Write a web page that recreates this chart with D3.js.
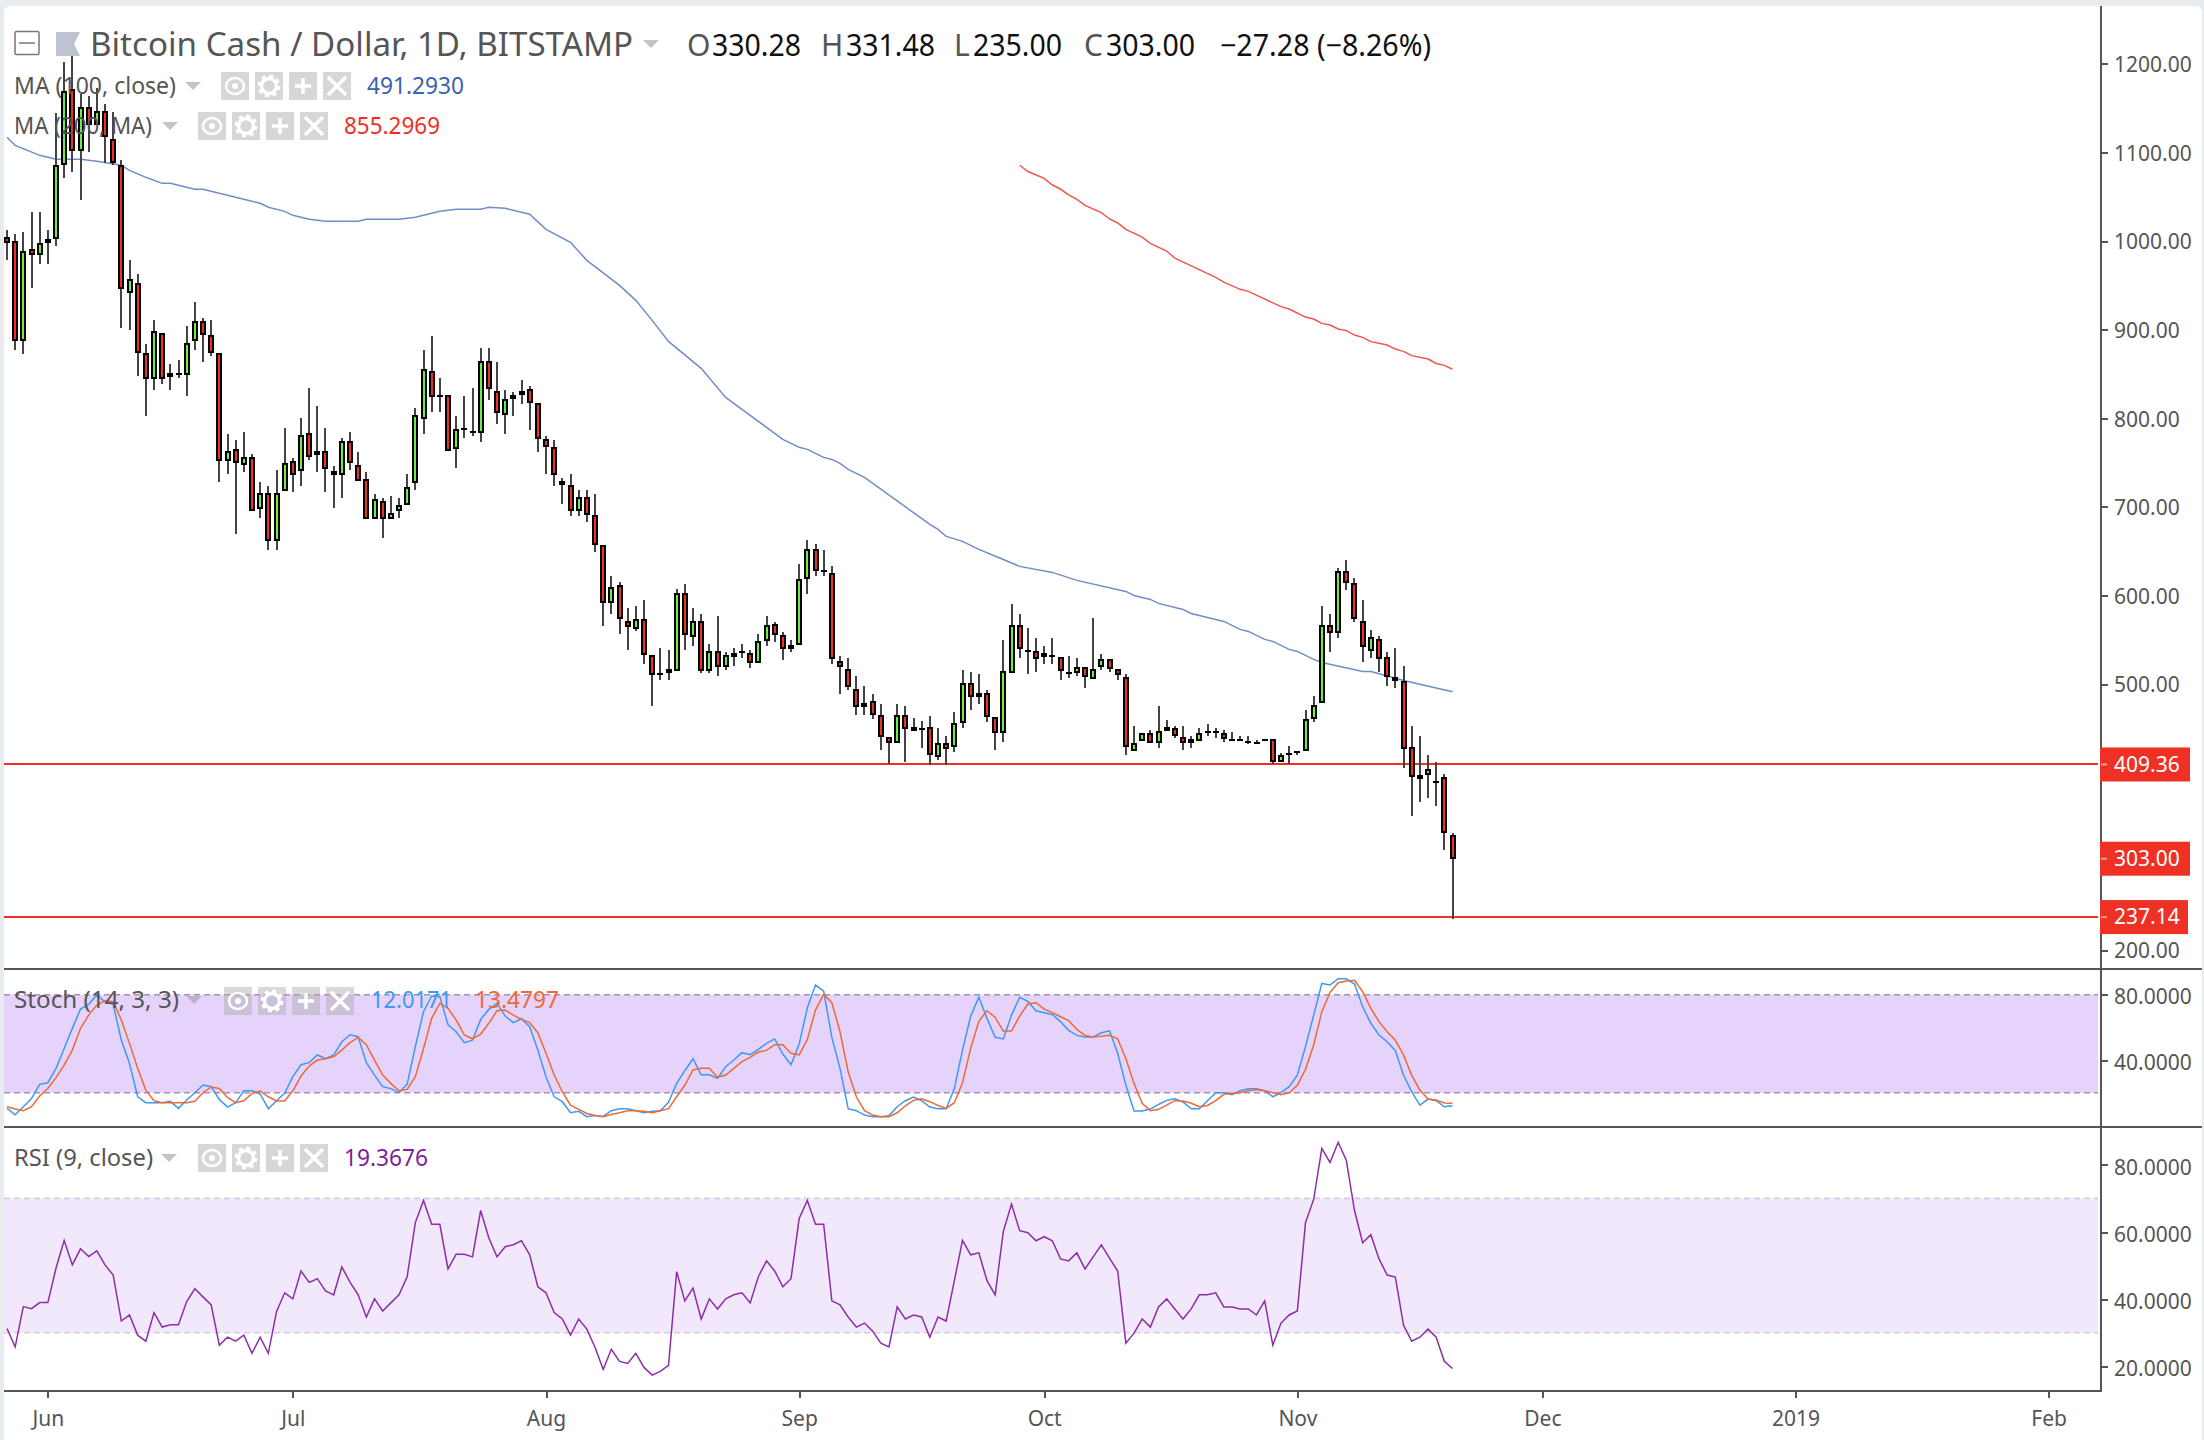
<!DOCTYPE html>
<html><head><meta charset="utf-8">
<script src="https://cdn.jsdelivr.net/npm/d3@7/dist/d3.min.js"></script>
<style>html,body{margin:0;padding:0;background:#e9ecef}svg{display:block}</style>
</head><body><svg id="c" width="2204" height="1440"></svg>
<script>
const firstDay = "2018-05-27";
const opens = [1004.2,999.7,886.8,990.6,983.9,997.4,1001.9,1085.5,1171.3,1101.3,
1150.9,1130.6,1146.4,1114.8,1085.5,941.0,952.3,873.3,843.9,895.8,
846.2,850.7,848.4,886.8,909.4,893.6,873.3,751.4,764.9,746.9,
755.9,697.2,715.2,661.1,717.5,751.4,740.1,783.0,758.1,762.7,
740.1,735.6,774.0,746.9,731.0,685.9,706.2,685.9,694.9,701.7,
726.5,798.8,853.0,825.9,825.9,764.9,787.5,785.2,783.0,864.2,
830.4,803.3,821.3,825.9,832.6,816.8,776.2,767.2,728.8,724.3,
694.9,710.7,690.4,656.6,591.1,611.4,570.8,561.8,573.0,532.4,
512.1,512.1,514.3,602.4,552.7,570.8,514.3,536.9,518.9,530.1,
536.9,534.6,523.4,548.2,567.4,555.0,539.2,543.7,618.2,652.0,
628.3,625.0,525.6,516.6,494.0,473.7,480.5,464.7,439.9,433.1,
464.7,446.6,450.0,451.1,417.3,433.1,428.6,455.6,500.8,485.0,
489.5,462.4,444.4,512.1,566.3,538.0,536.9,530.1,532.4,530.1,
513.2,512.1,518.9,505.3,518.9,527.9,516.6,507.6,424.0,435.3,
444.4,433.1,446.6,450.0,439.9,433.1,435.3,446.6,446.6,444.4,
437.6,437.6,435.3,434.2,437.6,437.6,412.7,421.8,424.0,424.0,
460.2,478.2,566.3,557.2,627.2,613.7,570.8,536.9,550.4,530.1,
507.6,503.0,428.6,392.4,397.0,390.2,394.7,330.28];
const highs = [1012.1,1007.6,1009.8,1032.4,1032.4,1012.1,1144.2,1201.7,1208.5,1165.6,
1163.3,1172.4,1154.3,1145.3,1091.1,978.2,962.4,883.4,910.5,895.8,
860.9,865.4,903.8,930.8,912.8,910.5,873.3,781.8,775.1,784.1,
759.3,727.7,723.1,741.2,788.6,754.7,799.9,833.8,813.5,788.6,
745.7,777.3,784.1,761.5,739.0,714.1,709.6,711.9,709.6,736.7,
811.2,876.7,892.5,845.0,825.9,802.2,824.7,833.8,878.9,878.9,
863.1,831.5,829.3,842.8,836.0,816.8,779.6,775.1,732.2,736.7,
718.6,718.6,714.1,656.6,621.6,614.8,585.4,587.7,594.5,532.4,
540.3,538.0,606.9,612.5,585.4,578.7,544.8,576.4,535.8,540.3,
544.8,538.0,556.1,576.4,569.7,558.4,549.3,635.1,662.2,657.7,
650.9,632.9,531.3,529.0,508.7,497.4,488.4,477.1,439.9,477.1,
474.8,461.3,457.9,463.6,450.0,441.0,468.1,515.5,513.2,510.9,
492.9,462.4,549.3,590.0,578.7,562.9,551.6,542.6,551.6,530.1,
531.3,529.0,518.9,574.2,533.5,527.9,516.6,510.9,452.3,444.4,
447.8,474.8,459.0,452.3,452.3,441.0,450.0,454.5,450.0,447.8,
445.5,441.0,441.0,436.5,437.6,437.6,421.8,429.7,424.0,470.3,
486.1,587.7,578.7,630.6,639.6,619.3,594.5,560.6,553.8,535.8,
540.3,520.0,452.3,441.0,420.6,411.6,398.1,331.48];
const lows = [978.2,876.7,872.1,946.6,973.7,973.7,994.0,1070.8,1077.6,1045.9,
1100.1,1130.6,1087.7,1085.5,901.5,899.2,847.3,802.2,831.5,838.3,
831.5,845.0,824.7,876.7,863.1,869.9,727.7,736.7,669.0,739.0,
694.9,687.0,650.9,650.9,717.5,716.4,723.1,752.5,739.0,716.4,
698.3,709.6,741.2,728.8,685.9,685.9,664.5,685.9,687.0,701.7,
718.6,781.8,806.7,806.7,762.7,743.5,777.3,779.6,772.8,820.2,
793.1,781.8,802.2,815.7,786.4,761.5,736.7,723.1,702.8,689.3,
689.3,682.5,648.7,565.1,578.7,556.1,538.0,559.5,522.2,474.8,
504.2,504.2,514.3,538.0,542.6,512.1,512.1,508.7,515.5,520.0,
529.0,517.7,523.4,542.6,547.1,526.8,535.8,543.7,601.2,621.6,
621.6,522.2,488.4,492.9,464.7,464.7,460.2,425.2,409.4,433.1,
411.6,446.6,427.4,408.3,413.9,408.3,422.9,450.0,470.3,477.1,
456.8,425.2,434.2,512.1,529.0,510.9,513.2,522.2,522.2,504.2,
506.5,508.7,495.2,505.3,515.5,513.2,504.2,420.6,424.0,435.3,
433.1,427.4,446.6,438.7,425.2,427.4,435.3,441.0,438.7,434.2,
436.5,435.3,431.9,431.9,435.3,409.4,411.6,409.4,420.6,424.0,
456.8,478.2,535.8,551.6,605.8,569.6,524.5,529.0,513.2,497.4,
495.2,404.9,350.7,366.5,371.0,362.0,312.3,235.00];
const closes = [997.4,886.8,988.4,983.9,997.4,1001.9,1085.5,1169.0,1101.3,1150.9,
1130.6,1146.4,1117.0,1087.7,945.5,956.8,873.3,843.9,898.1,843.9,
850.7,848.4,884.6,909.4,893.6,873.3,751.4,762.7,749.1,755.9,
694.9,715.2,661.1,715.2,749.1,735.6,780.7,755.9,762.7,742.3,
735.6,774.0,749.1,728.8,685.9,708.5,685.9,692.7,701.7,722.0,
803.3,855.2,823.6,824.7,762.7,787.5,788.6,783.0,864.2,832.6,
805.5,821.3,825.9,830.4,816.8,776.2,767.2,735.6,724.3,694.9,
710.7,690.4,656.6,591.1,609.1,573.0,564.0,573.0,532.4,509.8,
509.8,516.6,602.4,555.0,570.8,514.3,536.9,518.9,532.4,534.6,
534.6,523.4,548.2,566.3,555.0,539.2,543.7,618.2,652.0,627.2,
627.2,527.9,518.9,496.3,473.7,478.2,464.7,439.9,433.1,464.7,
448.9,451.1,448.9,419.5,433.1,426.3,455.6,500.8,485.0,489.5,
462.4,444.4,514.3,566.3,539.2,536.9,527.9,534.6,530.1,514.3,
512.1,518.9,507.6,516.6,527.9,516.6,509.8,428.6,433.1,444.4,
433.1,446.6,451.1,441.0,433.1,437.6,444.4,444.4,444.4,437.6,
437.0,435.3,434.8,433.7,435.3,412.7,419.5,419.5,423.5,460.2,
476.0,566.3,557.2,627.2,613.7,573.0,541.4,552.7,527.9,507.6,
503.0,426.3,394.7,397.0,403.7,388.0,331.5,303.00];

const ma100Day = [0,1,4,6,9,11,14,15,17,19,20,23,24,28,31,32,34,35,37,39,43,44,48,50,53,55,58,59,61,64,66,69,71,75,77,79,81,85,88,90,91,95,97,98,100,101,102,103,105,113,114,115,117,119,122,124,128,131,137,138,140,141,144,145,149,151,152,154,155,157,158,160,161,166,167,171,177];
const ma100 = [1117.1,1108.0,1096.7,1092.2,1092.2,1090.0,1085.5,1079.8,1071.9,1065.1,1065.1,1058.4,1058.4,1049.3,1042.6,1038.1,1033.5,1029.0,1024.5,1022.3,1022.3,1024.5,1024.5,1026.8,1033.5,1035.8,1035.8,1038.1,1036.9,1030.2,1013.2,998.6,978.2,950.0,933.1,910.5,886.8,856.3,823.6,810.0,803.3,776.2,767.2,764.9,755.9,753.6,749.1,742.3,733.3,680.3,674.6,666.7,661.1,652.0,640.7,632.9,626.1,617.1,604.6,600.1,595.6,591.1,584.3,579.8,570.8,561.8,559.5,550.5,548.2,539.2,536.9,527.9,524.5,514.3,514.3,504.2,491.3];
const ma200Day = [124,125,127,128,129,130,131,132,134,135,136,137,139,140,142,143,148,149,151,152,156,157,159,160,161,162,163,164,165,166,167,169,170,171,172,174,175,176,177];
const ma200 = [1085.5,1078.4,1070.8,1063.2,1058.7,1052.0,1047.0,1040.3,1032.0,1024.9,1020.4,1013.2,1004.5,997.4,988.7,980.8,959.0,953.7,945.5,943.2,926.0,923.3,914.2,912.0,907.1,905.2,900.7,898.9,893.9,891.3,886.5,882.6,878.1,875.5,870.7,866.8,861.9,859.7,855.3];

const stochK = [10.4,6.5,11.4,16.5,25.1,26.1,34.9,47.1,59.4,71.2,
74.1,79.8,75.7,74.1,52.2,37.9,17.5,13.9,13.9,13.9,
14.7,10.4,15.5,20.0,24.7,23.7,15.9,11.2,13.9,21.2,
21.2,19.2,10.2,15.1,19.6,29.8,37.1,38.4,43.1,40.8,
43.1,51.2,55.5,54.3,38.4,30.8,23.7,22.5,20.0,25.3,
48.2,69.6,79.2,78.8,61.6,57.3,50.6,52.2,64.9,71.0,
74.7,66.9,62.9,65.3,60.4,46.1,29.8,17.5,14.5,7.7,
8.6,5.3,6.1,5.5,9.0,10.2,10.2,9.0,7.7,8.6,
9.0,14.1,25.7,33.5,40.8,31.0,31.0,28.8,35.9,40.0,
44.5,43.3,46.5,50.2,52.9,43.7,37.1,49.8,72.0,85.9,
82.2,53.9,34.9,10.2,9.0,6.3,5.3,5.3,5.9,11.4,
15.1,17.3,15.1,11.2,10.2,10.2,22.6,46.1,66.9,78.4,
65.5,53.9,52.9,67.5,78.4,75.9,70.2,69.0,67.9,63.5,
58.2,55.1,54.1,54.1,56.7,57.9,44.1,24.7,8.8,8.8,
10.0,12.8,15.3,16.3,14.3,10.2,10.2,15.1,20.0,20.0,
18.8,21.2,22.4,22.4,21.2,17.5,20.0,23.7,30.8,48.2,
67.5,86.9,85.9,89.8,89.8,86.5,72.6,62.5,55.3,51.2,
45.7,30.8,20.6,12.4,16.1,15.1,11.4,12.02];
const stochD = [11.4,10.0,9.0,11.4,18.0,22.6,29.2,36.9,46.1,59.4,
67.5,73.7,76.3,75.7,64.5,50.2,34.9,21.6,15.1,13.9,
13.9,13.9,13.9,14.7,20.0,23.5,22.6,17.1,13.9,15.1,
19.6,21.0,17.5,14.9,14.9,21.2,30.2,36.3,40.0,40.8,
42.0,46.1,50.6,53.9,49.4,40.0,30.8,25.7,21.2,22.0,
29.8,47.1,65.5,74.7,71.6,64.5,55.3,53.0,55.9,62.5,
70.2,70.6,67.5,64.9,62.9,56.7,44.1,30.8,20.6,12.4,
9.8,7.3,6.1,5.3,6.7,7.7,9.0,9.0,8.6,7.7,
9.0,10.2,17.5,24.7,33.9,34.9,34.9,29.4,30.8,34.9,
39.0,41.6,44.9,45.9,49.4,49.4,44.1,43.1,52.6,70.6,
80.2,75.1,57.3,32.8,17.5,9.0,6.3,5.3,5.3,7.7,
12.0,15.3,16.3,14.5,12.2,10.4,13.9,26.1,47.1,63.7,
70.2,66.1,57.7,57.7,66.9,74.3,75.1,71.2,69.0,66.5,
64.1,58.8,55.1,54.1,54.5,55.1,53.0,41.0,25.7,13.5,
9.0,9.8,12.4,15.1,14.9,13.5,11.4,12.2,15.1,19.0,
19.6,20.0,21.2,22.0,21.2,20.0,18.8,20.0,24.5,34.3,
49.2,69.6,81.4,87.3,88.4,88.8,81.8,71.6,63.5,57.3,
52.2,43.1,30.8,21.6,16.1,15.5,13.7,13.48];
const rsi = [31.3,25.8,37.8,37.2,39.0,39.0,49.2,57.5,50.2,55.0,
52.7,54.4,50.2,47.2,33.5,35.3,29.3,27.5,36.0,31.7,
32.4,32.4,39.3,43.1,40.7,38.3,26.3,28.7,27.5,29.3,
23.9,28.7,23.9,36.3,41.9,40.1,48.4,45.0,46.1,42.5,
41.3,49.6,45.1,41.3,34.7,40.1,36.5,38.9,41.3,46.7,
62.8,69.4,62.3,62.3,49.0,53.4,53.4,52.6,66.4,58.2,
52.6,55.6,56.2,57.4,53.2,43.7,41.9,36.0,34.1,29.3,
34.1,31.1,25.7,19.1,25.1,21.5,20.9,23.9,19.7,17.4,
18.5,20.3,48.2,39.5,43.3,34.1,40.1,37.1,40.1,41.3,
41.9,38.9,46.7,51.4,48.4,43.7,46.1,64.0,69.4,62.3,
62.3,39.5,38.3,34.7,31.7,32.9,30.5,26.9,25.8,37.7,
34.1,35.3,34.7,28.7,34.7,33.5,45.5,57.5,53.2,53.8,
45.5,41.3,60.2,68.3,60.4,59.8,57.4,58.6,57.4,52.0,
51.4,53.8,49.0,52.6,56.2,52.2,48.4,26.9,29.9,34.1,
31.7,37.7,40.1,37.1,34.1,37.1,41.3,41.3,41.9,37.7,
37.7,37.1,37.1,35.3,39.5,26.3,32.9,35.3,36.5,62.8,
69.7,84.9,80.7,86.7,81.3,66.4,56.8,59.2,52.0,47.2,
46.6,32.3,27.5,28.7,31.1,28.7,21.5,19.37];

const priceTicks = [200,500,600,700,800,900,1000,1100,1200];
const stochTicks = [40,80];
const rsiTicks = [20,40,60,80];
const stochBand = [20,80];
const rsiBand = [30,70];
const priceTags = [409.36,303.00,237.14];
const levels = [409.36,237.14];
const monthTicks = ["2018-06-01","2018-07-01","2018-08-01","2018-09-01","2018-10-01","2018-11-01","2018-12-01","2019-01-01","2019-02-01"];
const monthLabels = ["Jun","Jul","Aug","Sep","Oct","Nov","Dec","2019","Feb"];

const FONT = '"Noto Sans", sans-serif';
const svg = d3.select("#c");
const day0 = new Date(firstDay + "T00:00:00Z");
const dates = opens.map((_, i) => d3.utcDay.offset(day0, i));
const x = d3.scaleUtc().domain([dates[0], dates[dates.length - 1]]).range([7, 1452.5]);
const xi = i => x(dates[i]);
const yP = d3.scaleLinear().domain([200, 1200]).range([950, 63.8]);
const yS = d3.scaleLinear().domain([20, 80]).range([1092.7, 994.7]);
const yR = d3.scaleLinear().domain([20, 80]).range([1366.4, 1164.8]);
const RIGHT = 2101, PLOTR = 2098, LEFT = 4;

svg.append("rect").attr("x", LEFT).attr("y", 6).attr("width", 2198).attr("height", 1440).attr("rx", 6).attr("fill", "#fff");

/* bands */
function band(scale, vals, fill, dash) {
  svg.append("rect").attr("x", LEFT).attr("width", PLOTR - LEFT)
    .attr("y", scale(vals[1])).attr("height", scale(vals[0]) - scale(vals[1])).attr("fill", fill);
  svg.selectAll(null).data(vals).enter().append("line")
    .attr("x1", LEFT).attr("x2", PLOTR).attr("y1", d => scale(d)).attr("y2", d => scale(d))
    .attr("stroke", dash).attr("stroke-width", 1.6).attr("stroke-dasharray", "6 4");
}
band(yS, stochBand, "#e5d3fb", "#a294b2");
band(yR, rsiBand, "#f1e8fb", "#d6cce2");

/* levels */
svg.selectAll(null).data(levels).enter().append("line")
  .attr("x1", LEFT).attr("x2", PLOTR).attr("y1", d => Math.round(yP(d))).attr("y2", d => Math.round(yP(d)))
  .attr("stroke", "#ee3124").attr("stroke-width", 2).attr("shape-rendering", "crispEdges");

/* MA lines */
const lineV = (days, vals, y, col, w) => svg.append("path")
  .attr("d", d3.line().x((d, i) => xi(days[i])).y(d => y(d))(vals))
  .attr("fill", "none").attr("stroke", col).attr("stroke-width", w);
lineV(ma100Day, ma100, yP, "#6f8dc8", 1.5);
lineV(ma200Day, ma200, yP, "#f2554d", 1.5);

/* candles */
const g = svg.append("g").attr("shape-rendering", "crispEdges");
const idx = d3.range(opens.length);
const cx = i => Math.round(xi(i));
g.selectAll(".w").data(idx).enter().append("rect").attr("class", "w")
  .attr("x", i => cx(i) - 1).attr("width", 2)
  .attr("y", i => yP(highs[i])).attr("height", i => yP(lows[i]) - yP(highs[i]))
  .attr("fill", "#444");
const bodyTop = i => Math.round(yP(Math.max(opens[i], closes[i])));
const bodyBot = i => Math.max(Math.round(yP(Math.min(opens[i], closes[i]))), bodyTop(i) + 2);
g.selectAll(".b").data(idx).enter().append("rect").attr("class", "b")
  .attr("x", i => cx(i) - 3).attr("width", 6)
  .attr("y", bodyTop).attr("height", i => bodyBot(i) - bodyTop(i)).attr("fill", "#000");
g.selectAll(".f").data(idx.filter(i => bodyBot(i) - bodyTop(i) > 4)).enter().append("rect").attr("class", "f")
  .attr("x", i => cx(i) - 1).attr("width", 2)
  .attr("y", i => bodyTop(i) + 2).attr("height", i => bodyBot(i) - bodyTop(i) - 4)
  .attr("fill", i => closes[i] >= opens[i] ? "#6cf03c" : "#ee3124");

/* oscillator lines */
const lineD = (vals, y, col) => svg.append("path")
  .attr("d", d3.line().x((d, i) => xi(i)).y(d => y(d))(vals))
  .attr("fill", "none").attr("stroke", col).attr("stroke-width", 1.5);
lineD(stochK, yS, "#3f98f2");
lineD(stochD, yS, "#ee6a35");
lineD(rsi, yR, "#8e2ea6");

/* pane frames */
const frameCol = "#555";
[[LEFT, 969, 2202, 969], [LEFT, 1127, 2202, 1127], [LEFT, 1391, RIGHT + 1, 1391], [RIGHT, 6, RIGHT, 1391]].forEach(l =>
  svg.append("line").attr("x1", l[0]).attr("y1", l[1]).attr("x2", l[2]).attr("y2", l[3])
    .attr("stroke", frameCol).attr("stroke-width", 2).attr("shape-rendering", "crispEdges"));

/* axes */
function styleAxis(sel, shift) {
  sel.select(".domain").remove();
  sel.selectAll("line").attr("stroke", frameCol).attr("stroke-width", 2).attr("shape-rendering", "crispEdges");
  sel.selectAll("text").attr("font-family", FONT).attr("font-size", 21).attr("fill", "#555")
    .attr("transform", `translate(0,${shift})`);
}
const rightAxis = (scale, ticks, fmt, shift) => svg.append("g").attr("transform", `translate(${RIGHT},0)`)
  .call(d3.axisRight(scale).tickValues(ticks).tickFormat(d3.format(fmt)).tickSize(7).tickPadding(6)).call(styleAxis, shift);
rightAxis(yP, priceTicks, ".2f", 1);
rightAxis(yS, stochTicks, ".4f", 2.5);
rightAxis(yR, rsiTicks, ".4f", 2.5);
const monthDates = monthTicks.map(s => new Date(s + "T00:00:00Z"));
svg.append("g").attr("transform", "translate(0,1391)")
  .call(d3.axisBottom(x).tickValues(monthDates).tickFormat((d, i) => monthLabels[i]).tickSize(7).tickPadding(13))
  .call(styleAxis, 0);

/* price tags */
const tags = svg.selectAll(null).data(priceTags).enter().append("g").attr("transform", d => `translate(2100,${yP(d)})`);
tags.append("rect").attr("x", 0).attr("y", -17).attr("width", (d, i) => i === 2 ? 88 : 90).attr("height", 34).attr("fill", "#ee3124");
tags.append("line").attr("x1", 1).attr("x2", 7).attr("y1", 0).attr("y2", 0).attr("stroke", "#f7a08e").attr("stroke-width", 2);
tags.append("text").attr("x", 14).attr("dy", ".35em").attr("font-family", FONT).attr("font-size", 21).attr("fill", "#fff").text(d => d3.format(".2f")(d));

/* legend */
function txt(px, py, s, size, col, len) {
  const t = svg.append("text").attr("x", px).attr("y", py).attr("font-family", FONT)
    .attr("font-size", size).attr("fill", col).text(s);
  if (len) t.attr("textLength", len).attr("lengthAdjust", "spacingAndGlyphs");
  return t;
}
function tri(px, py, w, h, col) {
  svg.append("path").attr("d", `M${px},${py}h${w}l${-w / 2},${h}z`).attr("fill", col);
}
function buttons(px, py, fill) {
  [0, 1, 2, 3].forEach(i => {
    const bx = px + i * 34, cxb = bx + 14, cyb = py + 14;
    svg.append("rect").attr("x", bx).attr("y", py).attr("width", 28).attr("height", 28).attr("fill", fill);
    if (i === 0) {
      svg.append("ellipse").attr("cx", cxb).attr("cy", cyb).attr("rx", 9).attr("ry", 8).attr("fill", "none").attr("stroke", "#fff").attr("stroke-width", 2.5);
      svg.append("circle").attr("cx", cxb).attr("cy", cyb).attr("r", 3).attr("fill", "#fff");
    } else if (i === 1) {
      svg.append("circle").attr("cx", cxb).attr("cy", cyb).attr("r", 7.5).attr("fill", "none").attr("stroke", "#fff").attr("stroke-width", 3.5);
      svg.append("circle").attr("cx", cxb).attr("cy", cyb).attr("r", 10).attr("fill", "none").attr("stroke", "#fff").attr("stroke-width", 3).attr("stroke-dasharray", "4 3.85");
    } else {
      const a = i === 2 ? 8 : 9;
      const pathD = i === 2 ? `M${cxb - a},${cyb}H${cxb + a}M${cxb},${cyb - a}V${cyb + a}` : `M${cxb - a},${cyb - a}L${cxb + a},${cyb + a}M${cxb + a},${cyb - a}L${cxb - a},${cyb + a}`;
      svg.append("path").attr("d", pathD).attr("stroke", "#fff").attr("stroke-width", 3.5).attr("fill", "none");
    }
  });
}
const grey = "#555", lightGrey = "rgba(205,205,205,.8)";
/* header icons */
svg.append("rect").attr("x", 15).attr("y", 31.5).attr("width", 24).attr("height", 23).attr("rx", 1.5).attr("fill", "none").attr("stroke", "#777").attr("stroke-width", 1.5);
svg.append("line").attr("x1", 19).attr("x2", 35).attr("y1", 43).attr("y2", 43).attr("stroke", "#777").attr("stroke-width", 1.5);
svg.append("path").attr("d", "M56,32H80L74,44L80,56H56Z").attr("fill", "#bfc3cf");
txt(90, 56, "Bitcoin Cash / Dollar, 1D, BITSTAMP", 32, grey, 543);
tri(643, 40, 16, 8, "#c4c4c4");
[["O", 687, "330.28", 712], ["H", 821, "331.48", 846], ["L", 954, "235.00", 973], ["C", 1084, "303.00", 1106]].forEach(a => {
  txt(a[1], 56, a[0], 30, grey);
  txt(a[3], 56, a[2], 30, "#111", 89);
});
txt(1220, 56, "\u221227.28 (\u22128.26%)", 30, "#111", 211);

txt(14, 94, "MA (100, close)", 24, grey, 162);
tri(185, 82, 16, 8, "#c4c4c4");
buttons(221, 72, lightGrey);
txt(367, 94, "491.2930", 24, "#3a62b0", 97);

txt(14, 134, "MA (200, MA)", 24, grey, 138);
tri(162, 122, 16, 8, "#c4c4c4");
buttons(198, 112, lightGrey);
txt(344, 134, "855.2969", 24, "#ee3124", 96);

txt(14, 1008, "Stoch (14, 3, 3)", 24, grey, 165);
tri(186, 996, 16, 8, "rgba(150,150,150,.5)");
buttons(224, 987, "rgba(170,170,170,.45)");
txt(371, 1008, "12.0171", 24, "#3f98f2", 81);
txt(475, 1008, "13.4797", 24, "#ee6a35", 84);

txt(14, 1166, "RSI (9, close)", 24, grey, 139);
tri(161, 1154, 16, 8, "#c4c4c4");
buttons(198, 1144, lightGrey);
txt(344, 1166, "19.3676", 24, "#7b1f9c", 84);
</script></body></html>
